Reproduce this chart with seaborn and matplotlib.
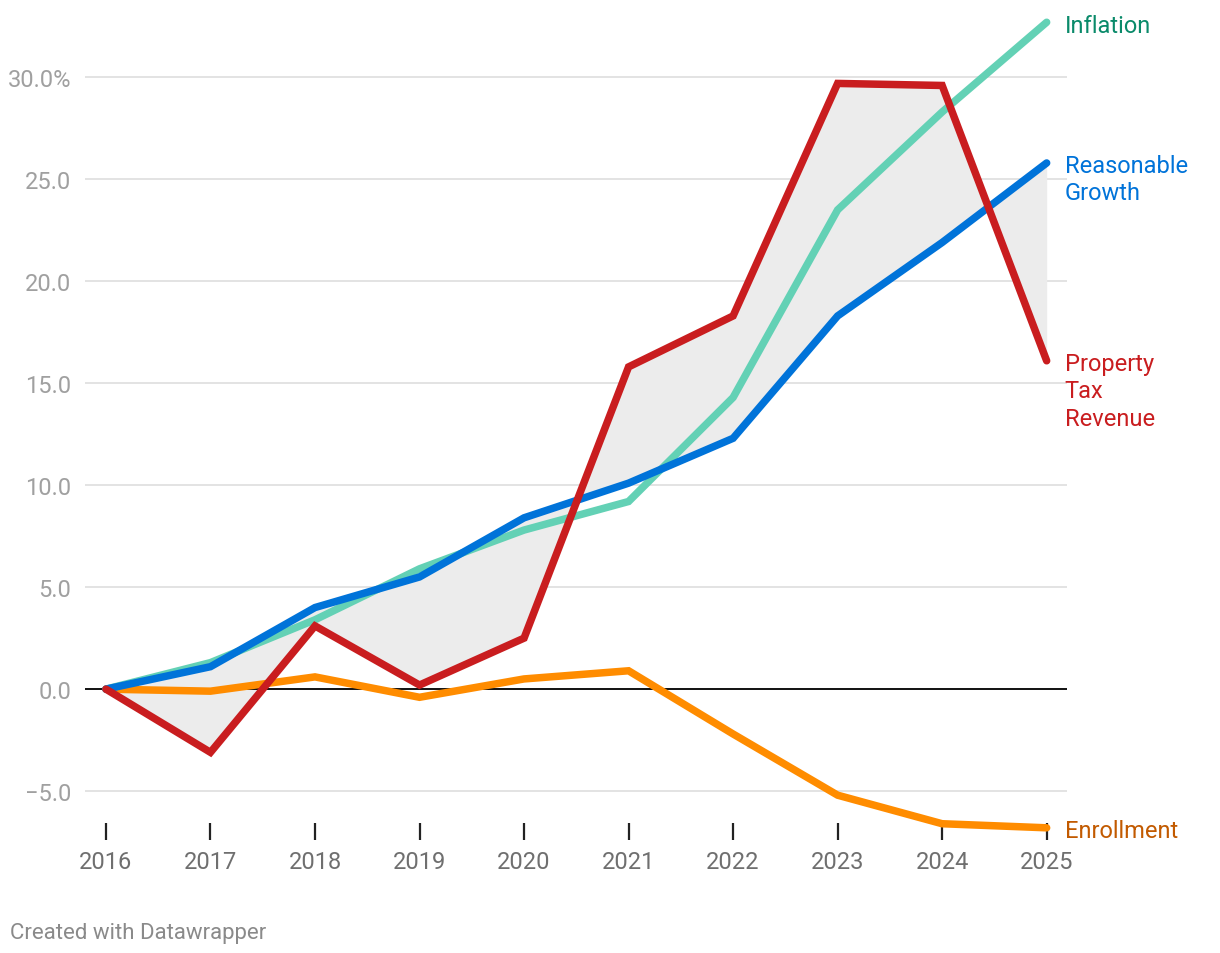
import seaborn as sns
import pandas as pd
import numpy as np
import matplotlib.pyplot as plt

years = [2016, 2017, 2018, 2019, 2020, 2021, 2022, 2023, 2024, 2025]
inflation = [0.0, 1.3, 3.4, 5.9, 7.8, 9.2, 14.3, 23.5, 28.3, 32.7]
reasonable_growth = [0.0, 1.1, 4.0, 5.5, 8.4, 10.1, 12.3, 18.3, 21.9, 25.8]
property_tax = [0.0, -3.1, 3.1, 0.2, 2.5, 15.8, 18.3, 29.7, 29.6, 16.1]
enrollment = [0.0, -0.1, 0.6, -0.4, 0.5, 0.9, -2.2, -5.2, -6.6, -6.8]

series_names = ["Enrollment", "Inflation", "Reasonable Growth", "Property Tax Revenue"]
line_colors = {"Enrollment": "#ff8c00", "Inflation": "#63d1b5",
               "Reasonable Growth": "#0073d9", "Property Tax Revenue": "#c91d1f"}
label_colors = {"Enrollment": "#c25a00", "Inflation": "#0a8a6a",
                "Reasonable Growth": "#0073d9", "Property Tax Revenue": "#c91d1f"}
end_labels = {"Enrollment": "Enrollment", "Inflation": "Inflation",
              "Reasonable Growth": "Reasonable\nGrowth",
              "Property Tax Revenue": "Property\nTax\nRevenue"}

df = pd.DataFrame({
    "year": years * 4,
    "value": enrollment + inflation + reasonable_growth + property_tax,
    "series": sum([[s] * len(years) for s in series_names], []),
})

sns.set_theme(style="white")
plt.rcParams['font.family'] = ['Roboto', 'DejaVu Sans']

fig = plt.figure(figsize=(12.2, 9.54), dpi=100)
ax = fig.add_axes([0.0697, 0.1184, 0.8045, 0.8645])

# shaded gap between property tax and reasonable growth
ax.fill_between(years, property_tax, reasonable_growth, color="#ececec", lw=0, zorder=1)

for yv in [-5, 5, 10, 15, 20, 25, 30]:
    ax.axhline(yv, color="#e3e3e3", lw=1.4, zorder=0)
ax.axhline(0, color="#111111", lw=1.4, zorder=2)

for i, s in enumerate(series_names):
    sub = df[df["series"] == s]
    sns.lineplot(data=sub, x="year", y="value", ax=ax, color=line_colors[s],
                 lw=5.4, solid_capstyle="round", solid_joinstyle="miter",
                 legend=False, zorder=3 + i)

ax.set_xlim(2015.8, 2025.19)
ax.set_ylim(-7.4, 33.04)
ax.set_xticks(years)
ax.set_xticklabels([str(y) for y in years])
ax.set_yticks([-5, 0, 5, 10, 15, 20, 25, 30])
ax.set_yticklabels(["\u22125.0", "0.0", "5.0", "10.0", "15.0", "20.0", "25.0", "30.0%"])
ax.set_xlabel("")
ax.set_ylabel("")
for sp in ax.spines.values():
    sp.set_visible(False)
ax.tick_params(axis="x", direction="in", length=12, width=1.6, color="#222222",
               bottom=True, pad=7.5, labelsize=17, labelcolor="#6f6f6f")
ax.tick_params(axis="y", length=0, pad=10, labelsize=17, labelcolor="#a0a0a0")

# end-of-line labels
last = {"Enrollment": enrollment[-1], "Inflation": inflation[-1],
        "Reasonable Growth": reasonable_growth[-1], "Property Tax Revenue": property_tax[-1]}
for s in series_names:
    va = "center" if s in ("Enrollment", "Inflation") else "top"
    off = -3 if va == "center" else 9
    ax.annotate(end_labels[s], xy=(years[-1], last[s]), xytext=(18, off),
                textcoords="offset pixels", color=label_colors[s], fontsize=17,
                va=va, ha="left", linespacing=1.25, annotation_clip=False)

fig.text(0.008, 0.016, "Created with Datawrapper", fontsize=16, color="#8a8a8a")

fig.savefig("out.png", dpi=100)
